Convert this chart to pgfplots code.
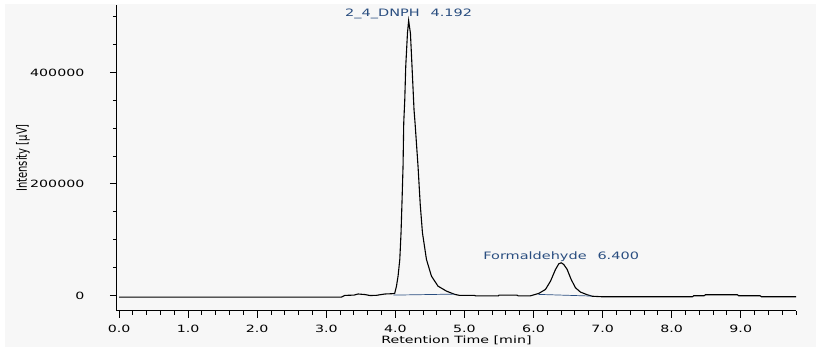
\documentclass[border=0pt]{standalone}
\usepackage{fontspec}
\setmainfont{DejaVu Sans}
\usepackage{graphicx}
\usepackage{pgfplots}
\pgfplotsset{compat=1.18}
\definecolor{bgc}{RGB}{247,247,247}
\definecolor{lbl}{RGB}{42,78,128}
\begin{document}
\begin{tikzpicture}
\fill[bgc] (-112pt,-36pt) rectangle (699pt,307pt);
\begin{axis}[
  at={(0pt,0pt)}, anchor=south west,
  scale only axis, width=679pt, height=306pt,
  xmin=-0.03, xmax=9.8, ymin=-28000, ymax=521000,
  axis x line*=bottom, axis y line*=left,
  axis line style={-, line width=1pt},
  xtick={0,1,...,9}, minor xtick={0.2,0.4,0.6,0.8,1.2,1.4,1.6,1.8,2.2,2.4,2.6,2.8,3.2,3.4,3.6,3.8,4.2,4.4,4.6,4.8,5.2,5.4,5.6,5.8,6.2,6.4,6.6,6.8,7.2,7.4,7.6,7.8,8.2,8.4,8.6,8.8,9.2,9.4,9.6,9.8},
  ytick={0,200000,400000}, minor ytick={50000,100000,150000,250000,300000,350000,450000,500000},
  xtick pos=bottom, ytick pos=left,
  tick align=outside,
  major tick length=7pt, minor tick length=4pt,
  every tick/.style={black, line width=1pt},
  every minor tick/.style={black, line width=1pt},
  xticklabel style={/pgf/number format/fixed, /pgf/number format/fixed zerofill, /pgf/number format/precision=1, inner sep=1pt, yshift=-6.3pt},
  yticklabel style={/pgf/number format/fixed, /pgf/number format/set thousands separator={}, xshift=-14.5pt},
  /pgf/number format/assume math mode=true,
  scaled y ticks=false, scaled x ticks=false,
  ticklabel style={font=\fontsize{10}{12}\selectfont, xscale=1.42},
  xlabel={Retention Time [min]},
  ylabel={\scalebox{1}[1.42]{Intensity [µV]}},
  xlabel style={font=\fontsize{10}{12}\selectfont, xscale=1.42, inner sep=0pt, at={(axis description cs:0.5,0)}, anchor=center, yshift=-29pt},
  ylabel style={font=\fontsize{10}{12}\selectfont, at={(axis description cs:-0.1384,0.5)}, anchor=center},
  clip=false,
]
\addplot[black, line width=1.1pt] table {
x y
0.00 -3000
3.22 -3000
3.27 0
3.40 500
3.46 2500
3.56 1500
3.63 -200
3.72 0
3.77 1000
3.85 2500
3.95 3000
3.99 3500
4.016 16600
4.039 34600
4.064 64500
4.082 112300
4.097 171900
4.111 231500
4.121 309200
4.136 350900
4.150 410600
4.175 470400
4.192 493000
4.218 470400
4.241 410600
4.270 333000
4.285 309200
4.328 231500
4.360 163000
4.392 112300
4.450 64500
4.522 34600
4.617 16600
4.739 7700
4.859 1800
4.93 0
5.14 0
5.17 -1000
5.49 -1000
5.50 500
5.76 500
5.78 -1000
5.95 -1000
6.077 3600
6.173 10700
6.246 25600
6.318 46500
6.366 56700
6.400 58500
6.438 55500
6.487 46500
6.545 28600
6.607 13700
6.680 5900
6.776 1200
6.850 -1500
7.00 -2500
8.30 -2500
8.32 -600
8.47 -600
8.49 1200
8.95 1200
8.97 -600
9.28 -600
9.30 -2500
9.80 -2500
};
\addplot[lbl, line width=0.7pt] table {
x y
3.97 500
4.86 2300
};
\addplot[lbl, line width=0.7pt] table {
x y
6.07 1800
6.84 -1200
};
\node[lbl, anchor=south, xscale=1.42, font=\fontsize{10.2}{12}\selectfont, inner sep=1pt] at (axis cs:4.192,493000) {2\_4\_DNPH\hspace{0.75em}4.192};
\node[lbl, anchor=south, xscale=1.42, font=\fontsize{10.2}{12}\selectfont, inner sep=1pt] at (axis cs:6.40,58500) {Formaldehyde\hspace{0.75em}6.400};
\end{axis}
\pgfresetboundingbox
\path[use as bounding box] (-117pt,-36pt) rectangle (699pt,311pt);
\end{tikzpicture}
\end{document}
